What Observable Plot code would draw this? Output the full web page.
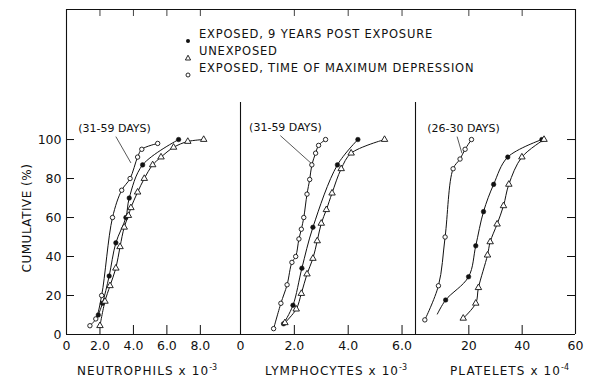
<!DOCTYPE html>
<html><head><meta charset="utf-8">
<script src="https://cdn.jsdelivr.net/npm/d3@7"></script>
<script src="https://cdn.jsdelivr.net/npm/@observablehq/plot@0.6"></script>
<style>
body{margin:0;background:#fff;}
#chart{position:relative;width:595px;height:378px;font-family:"DejaVu Sans",sans-serif;color:#111;overflow:hidden;}
#chart svg.panel{position:absolute;left:0;top:0;}
.t{position:absolute;white-space:nowrap;font-size:11.5px;letter-spacing:0.8px;line-height:14px;}
.t sup{font-size:8px;vertical-align:5px;letter-spacing:0;}
.mk{position:absolute;}
</style></head><body><div id="chart"></div>
<script>
// ---- data (value pairs: [x, cumulative %]) ----
const legendLabels = ["EXPOSED, 9 YEARS POST EXPOSURE", "UNEXPOSED", "EXPOSED, TIME OF MAXIMUM DEPRESSION"];
const axisTitles = ["NEUTROPHILS x 10", "LYMPHOCYTES x 10", "PLATELETS x 10"];
const axisExponents = ["-3", "-3", "-4"];
const yTitle = "CUMULATIVE (%)";
const yTicks = [0, 20, 40, 60, 80, 100];

const neutTicks = [0, 2, 4, 6, 8];
const neutTickLabels = ["0", "2.0", "4.0", "6.0", "8.0"];
const lymphTicks = [0, 2, 4, 6];
const lymphTickLabels = ["0", "2.0", "4.0", "6.0"];
const platTicks = [20, 40, 60];
const platTickLabels = ["20", "40", "60"];

const neutExposed9y = [[1.9,10],[2.15,16],[2.55,30],[2.95,47],[3.55,60],[3.75,70],[4.55,87],[6.7,100]];
const neutUnexposed = [[2.0,4.5],[2.3,17],[2.6,25],[2.95,34],[3.2,45],[3.45,55],[3.7,61],[3.85,65],[4.25,73],[4.65,80],[5.15,87],[5.65,91],[6.4,96],[7.25,99],[8.2,100]];
const neutMaxDep = [[1.4,4.5],[1.75,8],[2.1,20],[2.75,60],[3.3,74],[3.8,80],[4.25,91],[4.5,95],[5.45,98]];

const lymphExposed9y = [[1.6,5.5],[1.95,15],[2.28,34],[2.69,55],[3.6,87],[4.36,100]];
const lymphUnexposed = [[1.65,6],[2.07,13],[2.26,21],[2.47,31],[2.69,39],[2.85,48],[3.0,57],[3.19,64],[3.4,72.5],[3.74,85],[4.11,93],[5.35,100]];
const lymphMaxDep = [[1.23,3],[1.5,16],[1.73,25.5],[1.91,37],[2.05,40],[2.17,49],[2.26,54],[2.35,60],[2.47,72],[2.57,79.5],[2.65,87],[2.79,93],[2.9,97],[3.16,100]];

const platExposed9yLineStart = [[8.2,10.5]];
const platExposed9y = [[11.3,17.7],[19.9,29.6],[22.6,45.5],[25.5,63],[29.3,77],[34.6,91],[47.4,100]];
const platUnexposed = [[17.9,8.3],[22.6,16],[23.6,24],[27,40.7],[28,47.5],[30.6,56.6],[33,66],[35,77],[39.9,91],[48.2,100]];
const platMaxDep = [[3.5,7.5],[8.6,25],[11.1,50],[14.1,85],[16.7,90],[18.6,95],[21,100]];

const callouts = [
  {label: "(31-59 DAYS)", x: 2.87, y: 105.5, x1: 2.95, y1: 101.5, x2: 3.85, y2: 88},
  {label: "(31-59 DAYS)", x: 1.67, y: 106, x1: 1.48, y1: 102, x2: 2.65, y2: 87.5},
  {label: "(26-30 DAYS)", x: 18.0, y: 105.5, x1: 15.6, y1: 101.5, x2: 17.4, y2: 93}
];

// ---- layout ----
const W = 595, H = 378, MT = 9, MB = 44;
const Y_TOP = 166.7;      // value at the top frame line
const DIVIDER_TOP = 119;  // divider lines stop here
const ink = "#111";

function panel({left, right, domain, ticks, tickLabels, series, callout, isFirst, isLast, dividerAtZero, extraLine}) {
  const innerW = W - left - right;
  const innerH = H - MT - MB;
  const fmt = d => tickLabels[ticks.indexOf(d)];
  const inner = ticks.filter(t => t > domain[0] && t < domain[1]);
  const marks = [
    Plot.ruleY([0], {stroke: ink, strokeWidth: 1.1}),
    Plot.ruleY([Y_TOP], {stroke: ink, strokeWidth: 1}),
    Plot.tickX(inner, {x: d => d, insetTop: innerH - 9, stroke: ink}),
    Plot.tickX(inner, {x: d => d, insetBottom: innerH - 7, stroke: ink, strokeWidth: 0.8})
  ];
  if (isFirst) {
    marks.push(Plot.ruleX([0], {stroke: ink, strokeWidth: 1.1}));
    marks.push(Plot.tickY(yTicks.filter(t => t > 0), {y: d => d, insetRight: innerW - 8, stroke: ink}));
  }
  if (dividerAtZero) marks.push(Plot.ruleX([0], {y1: 0, y2: DIVIDER_TOP, stroke: ink, strokeWidth: 1.1}));
  if (isLast) {
    marks.push(Plot.ruleX([domain[1]], {stroke: ink, strokeWidth: 1.1}));
    marks.push(Plot.tickY(yTicks.filter(t => t > 0), {y: d => d, insetLeft: innerW - 8, stroke: ink}));
  }
  const [filled, tri, open] = series;
  const lineOf = (pts) => Plot.line(pts, {x: d => d[0], y: d => d[1], curve: "catmull-rom", stroke: ink, strokeWidth: 1});
  marks.push(lineOf(extraLine ? extraLine.concat(filled) : filled), lineOf(tri), lineOf(open));
  marks.push(Plot.link([callout], {x1: "x1", y1: "y1", x2: "x2", y2: "y2", stroke: ink, strokeWidth: 0.7}));
  marks.push(Plot.text([callout], {x: "x", y: "y", text: "label", fontSize: 11, fill: ink, fontFamily: "DejaVu Sans"}));
  marks.push(Plot.dot(filled, {x: d => d[0], y: d => d[1], r: 2.3, fill: ink, stroke: ink, strokeWidth: 0.5}));
  marks.push(Plot.dot(tri, {x: d => d[0], y: d => d[1], symbol: "triangle", r: 2.4, fill: "white", stroke: ink, strokeWidth: 0.9}));
  marks.push(Plot.dot(open, {x: d => d[0], y: d => d[1], r: 2.2, fill: "white", stroke: ink, strokeWidth: 0.9}));

  const svg = Plot.plot({
    width: W, height: H, marginTop: MT, marginBottom: MB, marginLeft: left, marginRight: right,
    x: {domain, ticks, tickFormat: fmt, tickSize: 0, tickPadding: 7, label: null},
    y: isFirst ? {domain: [0, Y_TOP], ticks: yTicks, tickSize: 0, tickPadding: 5, label: null}
               : {domain: [0, Y_TOP], axis: null},
    style: {background: "transparent", overflow: "visible", fontFamily: "DejaVu Sans", fontSize: "12.5px", color: ink},
    marks
  });
  svg.classList.add("panel");
  return svg;
}

const chart = document.getElementById("chart");
chart.appendChild(panel({left: 66, right: 355, domain: [0, 10.4], ticks: neutTicks, tickLabels: neutTickLabels,
  series: [neutExposed9y, neutUnexposed, neutMaxDep], callout: callouts[0], isFirst: true}));
chart.appendChild(panel({left: 240, right: 180, domain: [0, 6.5], ticks: lymphTicks, tickLabels: lymphTickLabels,
  series: [lymphExposed9y, lymphUnexposed, lymphMaxDep], callout: callouts[1], dividerAtZero: true}));
chart.appendChild(panel({left: 415, right: 20, domain: [0, 60], ticks: platTicks, tickLabels: platTickLabels,
  series: [platExposed9y, platUnexposed, platMaxDep], callout: callouts[2], dividerAtZero: true, isLast: true,
  extraLine: platExposed9yLineStart}));

// ---- text overlays ----
function addText(html, style) {
  const d = document.createElement("div");
  d.className = "t";
  d.innerHTML = html;
  Object.assign(d.style, style);
  chart.appendChild(d);
  return d;
}
const titleLefts = [77, 265, 450];
axisTitles.forEach((t, i) => addText(`${t}<sup>${axisExponents[i]}</sup>`, {left: titleLefts[i] + "px", top: "361px", fontSize: "12px", letterSpacing: "1.1px"}));
addText(yTitle, {left: "27px", top: "218px", fontSize: "12px", letterSpacing: "0.5px", transform: "translate(-50%,-50%) rotate(-90deg)"});

const legendTops = [27, 43.5, 61];
const markerSvgs = [
  '<svg width="8" height="8"><circle cx="4" cy="4" r="2" fill="#111"/></svg>',
  '<svg width="8" height="8"><path d="M4,1.2 L6.6,6 L1.4,6 Z" fill="white" stroke="#111" stroke-width="0.9"/></svg>',
  '<svg width="8" height="8"><circle cx="4" cy="4" r="2" fill="white" stroke="#111" stroke-width="0.9"/></svg>'
];
legendLabels.forEach((lab, i) => {
  addText(lab, {left: "199px", top: legendTops[i] + "px"});
  const m = document.createElement("div");
  m.className = "mk";
  m.innerHTML = markerSvgs[i];
  Object.assign(m.style, {left: "184px", top: (legendTops[i] + 3) + "px", width: "8px", height: "8px"});
  chart.appendChild(m);
});
</script></body></html>
